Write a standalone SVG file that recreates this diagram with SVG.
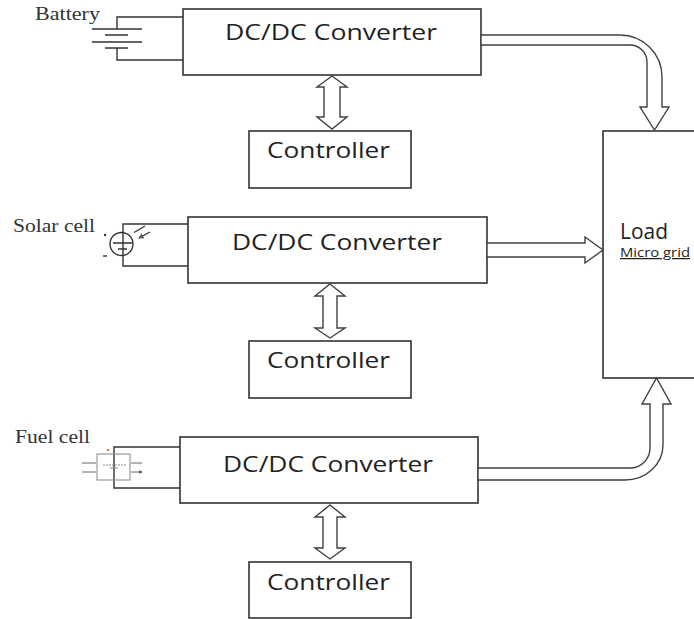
<svg xmlns="http://www.w3.org/2000/svg" width="694" height="619" viewBox="0 0 694 619">
<style>
.box{fill:#fff;stroke:#333;stroke-width:1.6}
.arr{fill:#fff;stroke:#404040;stroke-width:1.4;stroke-linejoin:miter}
.wire{fill:none;stroke:#333;stroke-width:1.4}
.t{font-family:"Open Sans","Noto Sans",sans-serif;font-size:22px;fill:#222}
.ld{font-family:"Open Sans","Noto Sans",sans-serif;font-size:22px;fill:#222}
.mg{font-family:"Open Sans","Noto Sans",sans-serif;font-size:12.5px;fill:#222;text-decoration:underline}
.s{font-family:"Liberation Serif","Times New Roman",serif;font-size:18px;fill:#333}
.g{fill:none;stroke:#888;stroke-width:1}
</style>
<defs>
<marker id="ah" viewBox="0 0 6 6" refX="5" refY="3" markerWidth="4" markerHeight="4" orient="auto">
<path d="M0,0 L6,3 L0,6 Z" fill="#555"/>
</marker>
</defs>
<rect width="694" height="619" fill="#fff"/>

<g id="battery">
<text class="s" x="35" y="20" textLength="65" lengthAdjust="spacingAndGlyphs">Battery</text>
<path class="wire" d="M183,17 H117 V29 M92,29 H142 M105,35 H128 M92,42 H142 M105,48 H128 M117,48 V60 H183"/>
</g>

<g id="solar">
<text class="s" x="13" y="232" textLength="82" lengthAdjust="spacingAndGlyphs">Solar cell</text>
<path class="wire" d="M188,224 H123 V266 H188"/>
<circle cx="121.5" cy="244" r="11.5" fill="none" stroke="#333" stroke-width="1.4"/>
<path class="wire" d="M113,243 H132 M118,249 H127"/>
<circle cx="105" cy="235" r="1.2" fill="#333"/>
<path class="wire" d="M103,256 H107" stroke-width="1"/>
<path d="M145,226 L134,232.5 M150,232 L139,238" fill="none" stroke="#333" stroke-width="1.4" marker-end="url(#ah)"/>
</g>

<g id="fuel">
<text class="s" x="15" y="443" textLength="75" lengthAdjust="spacingAndGlyphs">Fuel cell</text>
<path class="wire" d="M180,447 H114 V488 H180"/>
<rect class="g" x="97" y="454" width="33" height="26"/>
<path class="g" d="M103,465 H127" stroke-dasharray="2,1"/>
<path class="g" d="M110,468 H118"/>
<path d="M82,463 H96 M82,472 H96 M131,463 H142 M131,472 H142" fill="none" stroke="#666" stroke-width="1" marker-end="url(#ah)"/>
<circle cx="108" cy="450" r="1.2" fill="#d08040"/>
</g>

<g id="conv1">
<rect class="box" x="183" y="9" width="298" height="66"/>
<text class="t" x="225" y="40" textLength="212" lengthAdjust="spacingAndGlyphs">DC/DC Converter</text>
</g>
<g id="conv2">
<rect class="box" x="188" y="217" width="299" height="66"/>
<text class="t" x="232" y="250" textLength="210" lengthAdjust="spacingAndGlyphs">DC/DC Converter</text>
</g>
<g id="conv3">
<rect class="box" x="180" y="437" width="298" height="66"/>
<text class="t" x="223" y="472" textLength="210" lengthAdjust="spacingAndGlyphs">DC/DC Converter</text>
</g>

<g id="ctrl1">
<rect class="box" x="249" y="131" width="162" height="57"/>
<text class="t" x="267" y="158" textLength="123" lengthAdjust="spacingAndGlyphs">Controller</text>
</g>
<g id="ctrl2">
<rect class="box" x="249" y="341" width="162" height="57"/>
<text class="t" x="267" y="368" textLength="123" lengthAdjust="spacingAndGlyphs">Controller</text>
</g>
<g id="ctrl3">
<rect class="box" x="249" y="562" width="162" height="56"/>
<text class="t" x="267" y="590" textLength="123" lengthAdjust="spacingAndGlyphs">Controller</text>
</g>

<g id="load">
<rect class="box" x="603" y="131" width="110" height="247"/>
<text class="ld" x="620" y="239" textLength="48" lengthAdjust="spacingAndGlyphs">Load</text>
<text class="mg" x="620" y="257" textLength="70" lengthAdjust="spacingAndGlyphs">Micro grid</text>
</g>

<g id="connectors">
<path class="arr" d="M481,35 H620 A42,42 0 0 1 662,77 V107 H669 L654.5,130 L640,107 H647 V62 A17,17 0 0 0 630,45 H481 Z"/>
<path class="arr" d="M487,243 H585 V237 L603,250 L585,263 V257 H487 Z"/>
<path class="arr" d="M478,468 H630 A20,20 0 0 0 650,448 V404 H642 L656.5,378 L671,404 H663 V445 A38,35 0 0 1 625,480 H478 Z"/>
<path class="arr" d="M332,76 L347,87 H340 V117 H347 L332,129 L317,117 H324 V87 H317 Z"/>
<path class="arr" d="M330,284 L345,296 H337 V328 H345 L330,338 L315,328 H323 V296 H315 Z"/>
<path class="arr" d="M330,505 L345,517 H337 V548 H345 L330,559 L315,548 H323 V517 H315 Z"/>
</g>
</svg>
